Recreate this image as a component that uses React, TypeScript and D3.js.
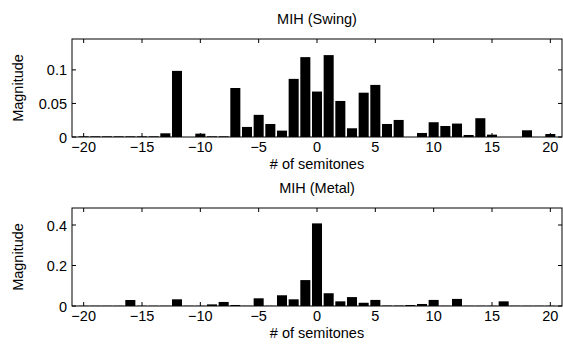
import React from 'react';
import * as d3 from 'd3';

// semitone offsets shown on the x axis
const semitones = d3.range(-20, 21);

const swingValues = [
  0.001, 0.001, 0.001, 0.001, 0.001, 0.001, 0.001, 0.0055, 0.0985, 0, 0.005,
  0.001, 0.001, 0.073, 0.015, 0.033, 0.0194, 0.0095, 0.0866, 0.119, 0.0677,
  0.122, 0.0537, 0.013, 0.066, 0.0776, 0.0194, 0.0254, 0, 0.006, 0.022,
  0.0164, 0.02, 0.003, 0.028, 0.0035, 0, 0, 0.01, 0, 0.0045,
];

const metalValues = [
  0.001, 0.001, 0.001, 0.001, 0.0296, 0.001, 0.001, 0.001, 0.033, 0.001, 0.001,
  0.008, 0.02, 0.005, 0.001, 0.038, 0.001, 0.053, 0.033, 0.128, 0.408,
  0.063, 0.023, 0.044, 0.016, 0.03, 0.002, 0.002, 0.005, 0.01, 0.03,
  0.001, 0.035, 0.001, 0.001, 0.001, 0.023, 0.001, 0.001, 0.001, 0.001,
];

const xTicks = [-20, -15, -10, -5, 0, 5, 10, 15, 20];
const swingYTicks = [0, 0.05, 0.1];
const metalYTicks = [0, 0.2, 0.4];

const font = '"Liberation Sans", Arial, Helvetica, sans-serif';
const fs = 14.5;

interface PanelProps {
  title: string;
  values: number[];
  yMax: number;
  yTicks: number[];
  top: number;
  bottom: number;
}

const Panel: React.FC<PanelProps> = ({ title, values, yMax, yTicks, top, bottom }) => {
  const left = 72;
  const right = 562;
  const x = d3.scaleLinear().domain([-21, 21]).range([left, right]);
  const y = d3.scaleLinear().domain([0, yMax]).range([bottom, top]);
  const bw = (x(1) - x(0)) * 0.86;
  const fmt = (v: number) => (v === 0 ? '0' : String(v));

  return (
    <g>
      <text x={(left + right) / 2} y={top - 15} textAnchor="middle" fontSize={fs}>
        {title}
      </text>
      {semitones.map((s, i) =>
        values[i] > 0 ? (
          <rect
            key={s}
            x={x(s) - bw / 2}
            y={y(values[i])}
            width={bw}
            height={bottom - y(values[i])}
            fill="#000"
          />
        ) : null
      )}
      <rect x={left} y={top} width={right - left} height={bottom - top} fill="none" stroke="#000" strokeWidth={1} />
      {xTicks.map(t => (
        <g key={t}>
          <line x1={x(t)} x2={x(t)} y1={bottom} y2={bottom - 4} stroke="#000" />
          <line x1={x(t)} x2={x(t)} y1={top} y2={top + 4} stroke="#000" />
          <text x={x(t)} y={bottom + 15} textAnchor="middle" fontSize={fs}>
            {t < 0 ? '\u2212' + Math.abs(t) : t}
          </text>
        </g>
      ))}
      {yTicks.map(t => (
        <g key={t}>
          <line x1={left} x2={left + 4} y1={y(t)} y2={y(t)} stroke="#000" />
          <line x1={right} x2={right - 4} y1={y(t)} y2={y(t)} stroke="#000" />
          <text x={left - 5} y={y(t) + 5.5} textAnchor="end" fontSize={fs}>
            {fmt(t)}
          </text>
        </g>
      ))}
      <text x={(left + right) / 2} y={bottom + 32} textAnchor="middle" fontSize={fs}>
        # of semitones
      </text>
      <text
        transform={`translate(${23}, ${(top + bottom) / 2}) rotate(-90)`}
        textAnchor="middle"
        fontSize={fs}
      >
        Magnitude
      </text>
    </g>
  );
};

export default function App() {
  return (
    <svg
      width={563}
      height={345}
      style={{ position: 'absolute', left: 0, top: 0, background: '#fff' }}
      fontFamily={font}
    >
      <rect width={563} height={345} fill="#fff" />
      <Panel title="MIH (Swing)" values={swingValues} yMax={0.146} yTicks={swingYTicks} top={39} bottom={137} />
      <Panel title="MIH (Metal)" values={metalValues} yMax={0.484} yTicks={metalYTicks} top={208} bottom={306} />
    </svg>
  );
}
